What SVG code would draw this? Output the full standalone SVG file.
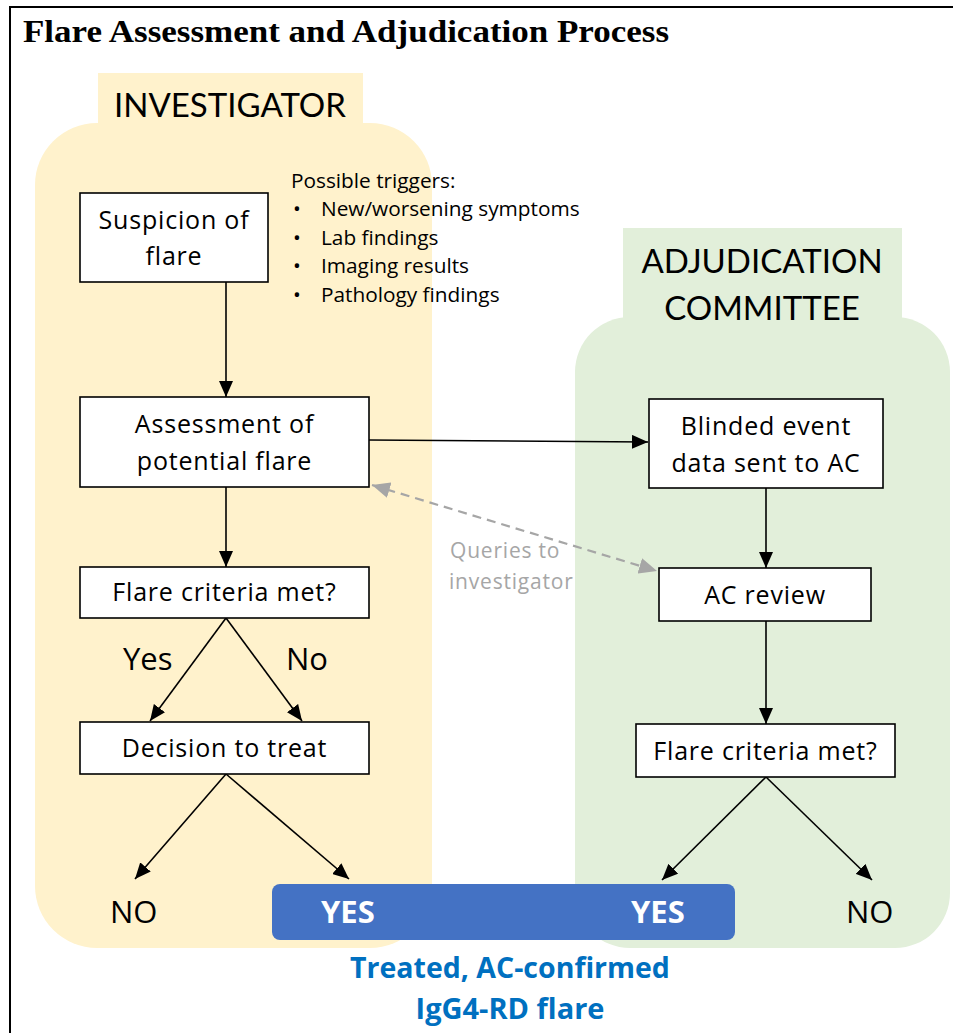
<svg xmlns="http://www.w3.org/2000/svg" width="953" height="1033" viewBox="0 0 953 1033">
<defs>
<style>
.t{font-family:"Open Sans","Noto Sans","Liberation Sans",sans-serif;fill:#000}
.h{font-family:Lato,"Open Sans","Liberation Sans",sans-serif;fill:#000}
.box{fill:#fff;stroke:#000;stroke-width:1.6}
.c{text-anchor:middle}
.bx{font-size:25px;letter-spacing:0.8px}
.hd{font-size:33px}
.lbl{font-size:31px}
.conn{stroke:#000;stroke-width:1.6;fill:none}
.q{stroke:#a6a6a6;stroke-width:2.2;stroke-dasharray:9 6;fill:none}
</style>
<marker id="ah" viewBox="0 0 16 14" refX="16" refY="7" markerWidth="16" markerHeight="14" markerUnits="userSpaceOnUse" orient="auto">
<path d="M0,0 L16,7 L0,14 Z" fill="#000"/>
</marker>
<marker id="gh" viewBox="0 0 18 16" refX="18" refY="8" markerWidth="18" markerHeight="16" markerUnits="userSpaceOnUse" orient="auto-start-reverse">
<path d="M0,0 L18,8 L0,16 Z" fill="#a6a6a6"/>
</marker>
</defs>
<rect width="953" height="1033" fill="#fff"/>
<path d="M10,1033 V7 H953" fill="none" stroke="#000" stroke-width="2"/>
<text x="23" y="42" font-family="'Liberation Serif',serif" font-weight="bold" font-size="32" textLength="646" lengthAdjust="spacingAndGlyphs">Flare Assessment and Adjudication Process</text>

<g id="lane-investigator">
<rect x="35" y="123" width="397" height="825" rx="62" fill="#fff2cc"/>
<rect x="98" y="73" width="265" height="60" fill="#fff2cc"/>
<text class="h hd c" x="230" y="117">INVESTIGATOR</text>
</g>
<g id="lane-ac">
<rect x="575" y="317" width="375" height="631" rx="55" fill="#e2efda"/>
<rect x="623" y="228" width="279" height="95" fill="#e2efda"/>
<text class="h hd c" x="762" y="273">ADJUDICATION</text>
<text class="h hd c" x="762" y="320">COMMITTEE</text>
</g>

<g id="triggers" class="t" font-size="20.8">
<text x="291" y="188">Possible triggers:</text>
<text x="293" y="216">•</text><text x="321" y="216">New/worsening symptoms</text>
<text x="293" y="245">•</text><text x="321" y="245">Lab findings</text>
<text x="293" y="273">•</text><text x="321" y="273">Imaging results</text>
<text x="293" y="302">•</text><text x="321" y="302">Pathology findings</text>
</g>

<g id="bar">
<rect x="272" y="884" width="463" height="56" rx="8" fill="#4472c4"/>
</g>

<g id="connectors">
<line class="conn" x1="226" y1="282" x2="226" y2="397" marker-end="url(#ah)"/>
<line class="conn" x1="226" y1="487" x2="226" y2="567" marker-end="url(#ah)"/>
<line class="conn" x1="369" y1="440" x2="648" y2="442" marker-end="url(#ah)"/>
<line class="conn" x1="766" y1="488" x2="766" y2="568" marker-end="url(#ah)"/>
<line class="conn" x1="766" y1="621" x2="766" y2="724" marker-end="url(#ah)"/>
<line class="conn" x1="226" y1="618" x2="150" y2="721" marker-end="url(#ah)"/>
<line class="conn" x1="226" y1="618" x2="302" y2="721" marker-end="url(#ah)"/>
<line class="conn" x1="226" y1="774" x2="135" y2="879" marker-end="url(#ah)"/>
<line class="conn" x1="226" y1="774" x2="349" y2="879" marker-end="url(#ah)"/>
<line class="conn" x1="766" y1="777" x2="662" y2="880" marker-end="url(#ah)"/>
<line class="conn" x1="766" y1="777" x2="872" y2="880" marker-end="url(#ah)"/>
<line class="q" x1="372" y1="485" x2="657" y2="571" marker-start="url(#gh)" marker-end="url(#gh)"/>
</g>

<g id="n-suspicion">
<rect class="box" x="80" y="193" width="188" height="89"/>
<text class="t bx c" x="174" y="229">Suspicion of</text>
<text class="t bx c" x="174" y="265">flare</text>
</g>
<g id="n-assessment">
<rect class="box" x="80" y="397" width="289" height="90"/>
<text class="t bx c" x="224.5" y="433">Assessment of</text>
<text class="t bx c" x="224.5" y="470">potential flare</text>
</g>
<g id="n-criteria-inv">
<rect class="box" x="80" y="567" width="289" height="51"/>
<text class="t bx c" x="224.5" y="601">Flare criteria met?</text>
</g>
<g id="n-decision">
<rect class="box" x="80" y="722" width="289" height="52"/>
<text class="t bx c" x="224.5" y="757">Decision to treat</text>
</g>
<g id="n-blinded">
<rect class="box" x="649" y="399" width="234" height="89"/>
<text class="t bx c" x="766" y="435">Blinded event</text>
<text class="t bx c" x="766" y="472">data sent to AC</text>
</g>
<g id="n-acreview">
<rect class="box" x="659" y="568" width="212" height="53"/>
<text class="t bx c" x="765" y="604">AC review</text>
</g>
<g id="n-criteria-ac">
<rect class="box" x="636" y="724" width="259" height="53"/>
<text class="t bx c" x="765.5" y="760">Flare criteria met?</text>
</g>

<g id="labels">
<text class="t lbl" x="123" y="670">Yes</text>
<text class="t lbl" x="286" y="670">No</text>
<text class="t lbl" x="110" y="923">NO</text>
<text class="t lbl" x="846" y="923">NO</text>
<text class="t lbl" x="321" y="923" font-weight="bold" style="fill:#fff">YES</text>
<text class="t lbl" x="631" y="923" font-weight="bold" style="fill:#fff">YES</text>
<text class="t" x="450" y="558" font-size="21" letter-spacing="0.8" style="fill:#a6a6a6">Queries to</text>
<text class="t" x="449" y="589" font-size="21" letter-spacing="0.8" style="fill:#a6a6a6">investigator</text>
<text class="t c" x="510" y="978" font-size="28.5" font-weight="bold" style="fill:#0070c0">Treated, AC-confirmed</text>
<text class="t c" x="510" y="1019" font-size="29" font-weight="bold" style="fill:#0070c0">IgG4-RD flare</text>
</g>
</svg>
